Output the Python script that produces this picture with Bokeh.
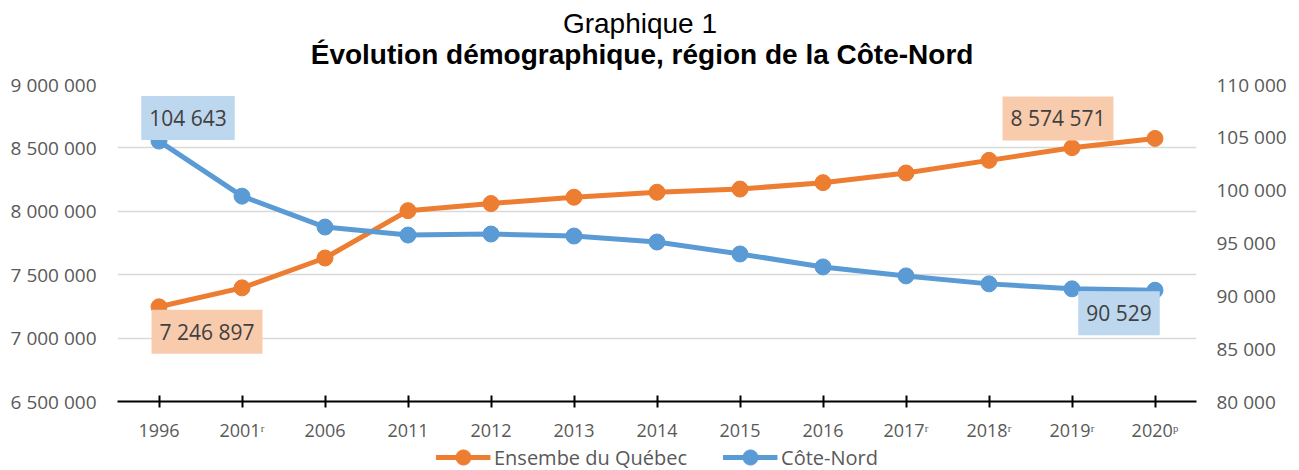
from bokeh.plotting import figure
from bokeh.layouts import column
from bokeh.models import (FactorRange, Range1d, LinearAxis, Legend, LegendItem,
                          Label, CustomJSTickFormatter, FixedTicker)
from bokeh.core.properties import value
from bokeh.embed import file_html
from bokeh.resources import INLINE

# ---- data ----
years = ["1996", "2001ʳ", "2006", "2011", "2012", "2013", "2014", "2015",
         "2016", "2017ʳ", "2018ʳ", "2019ʳ", "2020ᵖ"]
quebec = [7246897, 7396331, 7631552, 8005090, 8061101, 8110880, 8150183,
          8175272, 8225950, 8302063, 8401738, 8501703, 8574571]
cote_nord = [104643, 99434, 96509, 95754, 95849, 95660, 95094, 93962,
             92736, 91887, 91132, 90660, 90529]
left_ticks = [6500000, 7000000, 7500000, 8000000, 8500000, 9000000]
right_ticks = [80000, 85000, 90000, 95000, 100000, 105000, 110000]
series_names = ["Ensembe du Québec", "Côte-Nord"]
title_1 = "Graphique 1"
title_2 = "Évolution démographique, région de la Côte-Nord"

ORANGE = "#ED7D31"
BLUE = "#5B9BD5"
TICK_FONT = "Open Sans"
W = 1299


def bare(fig):
    fig.outline_line_color = None
    fig.background_fill_color = "white"
    fig.border_fill_color = "white"
    fig.min_border_left = fig.min_border_right = 0
    fig.min_border_top = fig.min_border_bottom = 0
    return fig


# ---------- title strip ----------
TH = 70
tf = bare(figure(width=W, height=TH, x_range=Range1d(0, W), y_range=Range1d(TH, 0),
                 output_backend="svg", toolbar_location=None,
                 x_axis_location=None, y_axis_location=None))
tf.grid.visible = False
tf.text(x=[629], y=[23], text=[title_1], text_font=value("Liberation Sans"),
        text_font_size="28px", text_align="center", text_baseline="alphabetic",
        text_color="black")
tf.text(x=[631.5], y=[54], text=[title_2], text_font=value("Liberation Sans"),
        text_font_size="28px", text_font_style="bold", text_align="center",
        text_baseline="alphabetic", text_color="black")

# ---------- main chart ----------
fmt = CustomJSTickFormatter(code="return tick.toFixed(0).replace(/\\B(?=(\\d{3})+(?!\\d))/g, ' ');")

LH = 26
MH = 470 - TH - LH
p = figure(x_range=FactorRange(*years), y_range=Range1d(left_ticks[0], left_ticks[-1]),
           width=W, height=MH, output_backend="svg", toolbar_location=None)
p.outline_line_color = None
p.background_fill_color = "white"
p.border_fill_color = "white"
p.min_border_left = 117
p.min_border_right = 103
p.min_border_top = 84 - TH
p.min_border_bottom = MH - (402 - TH)
p.extra_y_ranges = {"cn": Range1d(right_ticks[0], right_ticks[-1])}

ly = p.yaxis[0]
ly.ticker = FixedTicker(ticks=left_ticks)
ly.formatter = fmt
ly.axis_line_color = None
ly.major_tick_line_color = None
ly.minor_tick_line_color = None
ly.major_label_text_font = TICK_FONT
ly.major_label_text_font_size = "19px"
ly.major_label_text_color = "#595959"
ly.major_label_standoff = 15

ry = LinearAxis(y_range_name="cn", ticker=FixedTicker(ticks=right_ticks), formatter=fmt)
ry.axis_line_color = None
ry.major_tick_line_color = None
ry.minor_tick_line_color = None
ry.major_label_text_font = TICK_FONT
ry.major_label_text_font_size = "19px"
ry.major_label_text_color = "#595959"
ry.major_label_standoff = 14
p.add_layout(ry, "right")

xa = p.xaxis[0]
xa.axis_line_color = "black"
xa.axis_line_width = 2
xa.major_tick_line_color = "black"
xa.major_tick_line_width = 2
xa.major_tick_in = 6
xa.major_tick_out = 6
xa.major_label_text_font = TICK_FONT
xa.major_label_text_font_size = "18px"
xa.major_label_text_color = "#595959"
xa.major_label_standoff = 10

p.xgrid.grid_line_color = None
p.ygrid.grid_line_color = "#D9D9D9"
p.ygrid.grid_line_width = 1.5

p.line(years, quebec, line_width=5, color=ORANGE)
p.scatter(years, quebec, size=16, color=ORANGE)
p.line(years, cote_nord, line_width=5, color=BLUE, y_range_name="cn")
p.scatter(years, cote_nord, size=16, color=BLUE, y_range_name="cn")


def sp(v):
    return f"{v:,}".replace(",", " ")


# categorical centre of factor i is at i + 0.5 on the synthetic axis
first_x = 0 + 0.5
last_x = len(years) - 1 + 0.5
lab_specs = [
    (first_x, cote_nord[0], "cn", 29, 23, "#BDD7EE"),
    (last_x, cote_nord[-1], "cn", -36, -23, "#BDD7EE"),
    (first_x, quebec[0], "default", 48, -25, "#F8CBAD"),
    (last_x, quebec[-1], "default", -97, 20, "#F8CBAD"),
]
for x, y, rn, xo, yo, bg in lab_specs:
    p.add_layout(Label(x=x, y=y, y_range_name=rn, text=sp(y), x_offset=xo, y_offset=yo,
                       text_align="center", text_baseline="middle",
                       text_font=TICK_FONT, text_font_size="21px", text_color="#404040",
                       background_fill_color=bg, padding=8))

# ---------- legend strip ----------
lf = bare(figure(width=W, height=LH, x_range=FactorRange(*years), y_range=Range1d(0, 1),
                 output_backend="svg", toolbar_location=None,
                 x_axis_location=None, y_axis_location=None))
lf.grid.visible = False
# same series, drawn out of this strip's view: only their legend swatches show
a1 = lf.line(years, quebec, line_width=5, color=ORANGE)
b1 = lf.scatter(years, quebec, size=16, color=ORANGE)
a2 = lf.line(years, cote_nord, line_width=5, color=BLUE)
b2 = lf.scatter(years, cote_nord, size=16, color=BLUE)
legend = Legend(items=[LegendItem(label=series_names[0], renderers=[a1, b1]),
                       LegendItem(label=series_names[1], renderers=[a2, b2])],
                orientation="horizontal", location="center",
                glyph_width=55, glyph_height=38, label_standoff=4, spacing=35,
                label_text_font=TICK_FONT, label_text_font_size="20px",
                label_text_color="#595959", label_height=20,
                padding=0, margin=0, border_line_color=None,
                background_fill_alpha=0)
lf.add_layout(legend)

layout = column(tf, p, lf, spacing=0)
open("out.html", "w").write(file_html(layout, INLINE))
